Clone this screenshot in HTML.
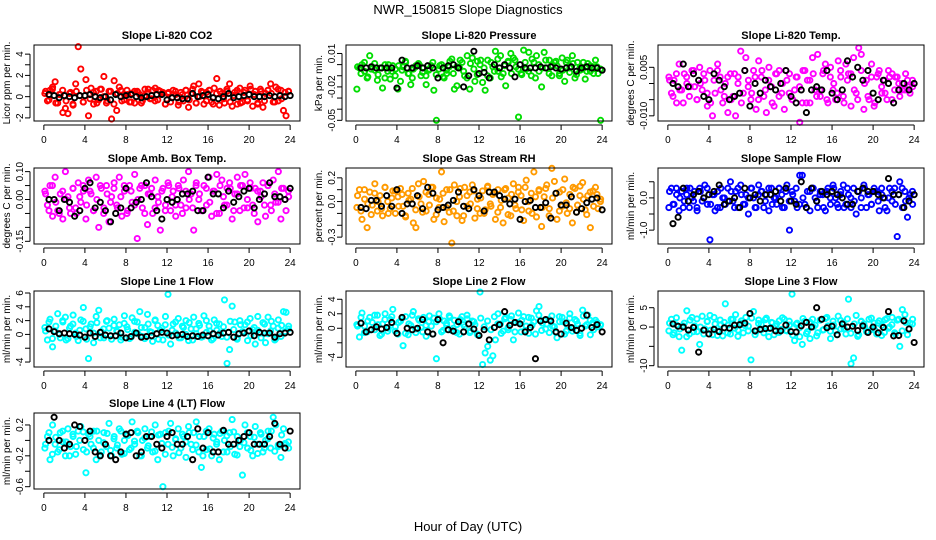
<!DOCTYPE html>
<html><head><meta charset="utf-8"><title>NWR_150815 Slope Diagnostics</title>
<style>html,body{margin:0;padding:0;background:#fff}svg{display:block;font-family:"Liberation Sans",Arial,sans-serif}</style>
</head><body>
<svg id="chart" width="936" height="540" viewBox="0 0 936 540" xmlns="http://www.w3.org/2000/svg">
<rect width="936" height="540" fill="#fff"/>
<text x="468" y="14" text-anchor="middle" font-size="13">NWR_150815  Slope Diagnostics</text>
<text x="468" y="531" text-anchor="middle" font-size="13">Hour of Day (UTC)</text>
</svg>
<script>
const co2C=[0.3,-0.4,0.6,0.9,1.4,-0.6,0.2,-1.5,-1.1,-1.6,0.4,-0.8,1.2,4.7,2.6,-0.5,1.6,-1.8,0.8,-0.7,0.5,-0.3,0.7,1.9,-0.6,0.5,-2.1,1.5,-1.3,0.9,-0.4,0.2,0.6,-0.5,0.3,-0.6,0.5,0.2,-0.4,0.7,0.4,-0.2,0.6,0.8,-0.3,0.5,0.4,-0.7,0.3,-0.5,0.6,0.2,-0.8,0.4,-0.4,0.6,-1.0,0.3,1.0,-0.6,1.2,0.5,-0.7,0.4,0.6,-0.5,0.8,1.7,-0.8,0.3,-0.6,0.5,1.2,-0.9,0.4,-0.7,0.8,-0.5,0.6,-0.4,1.0,-0.9,0.5,-0.6,0.7,-1.0,0.3,0.6,1.2,-0.5,0.9,-0.4,0.6,-1.3,-1.8,0.5];
const co2K=[0.5,-0.3,0.7,-0.6,0.2,0.6,-0.4,0.3,-0.7,0.5,0.1,-0.5,0.6,-0.2,0.4,-0.6,0.7,0.0,-0.4,0.5,-0.7,0.3,0.6,-0.3,0.2,-0.5,0.5,0.4,-0.6,0.1,0.7,-0.2,-0.4,0.6,0.3,-0.7,0.4,-0.1,0.5,-0.5,0.2,0.6,-0.3,0.7,-0.6,0.0,0.4,-0.4,0.6,-0.7,0.3,0.5,-0.2,0.7,-0.5,0.1,0.6,-0.6,0.4,-0.3,0.7,0.2,-0.7,0.5,-0.4,0.6,0.3,-0.5,0.7,-0.2,0.4,0.5];
const co2B=[0.2,0.1,-0.1,0.1,0.0,-0.1,0.1,0.1,0.2,0.0,-0.1,0.0,-0.3,0.2,0.0,0.1,0.2,0.0,-0.1,0.0,0.1,0.2,0.2,-0.3,-0.1,-0.1,-0.2,-0.2,0.3,0.0,0.1,0.2,-0.1,-0.2,0.0,0.3,-0.1,0.0,0.1,0.2,0.0,0.0,0.0,0.1,0.0,0.1,0.0,0.1];
const presC=[-0.022,-0.003,0.0,-0.006,-0.012,0.008,-0.002,-0.005,-0.014,-0.003,-0.021,0.0,-0.006,-0.013,-0.001,-0.004,-0.022,-0.015,-0.002,0.002,-0.008,-0.018,-0.004,-0.001,0.001,-0.010,-0.003,-0.018,-0.005,-0.001,-0.023,-0.050,-0.004,0.0,-0.012,-0.008,-0.002,0.005,-0.022,-0.019,-0.003,0.002,-0.010,0.008,-0.022,0.006,-0.015,0.003,0.0,-0.016,-0.023,0.004,-0.012,-0.002,0.012,-0.006,0.008,-0.008,-0.019,0.002,0.010,0.006,-0.002,-0.047,-0.008,0.013,-0.004,0.011,-0.010,0.002,0.008,-0.006,-0.020,0.011,-0.003,0.004,-0.010,0.002,-0.001,-0.008,0.006,-0.015,0.004,-0.003,0.008,-0.012,0.002,-0.005,-0.004,-0.013,0.001,-0.006,-0.002,0.004,-0.008,-0.050];
const presK=[-0.002,-0.008,0.002,-0.011,-0.004,0.001,-0.009,-0.003,-0.012,0.0,-0.006,-0.010,-0.001,-0.005,0.003,-0.008,-0.012,-0.002,0.0,-0.007,-0.010,-0.004,0.002,-0.009,-0.001,-0.011,-0.005,0.003,-0.008,-0.002,0.004,-0.006,-0.012,0.001,-0.004,-0.009,0.004,-0.003,-0.010,0.002,-0.006,0.005,-0.011,-0.001,0.003,-0.008,0.004,-0.004,-0.009,0.002,-0.006,0.005,-0.012,0.0,-0.003,0.004,-0.008,-0.001,0.003,-0.010,-0.005,0.002,-0.007,0.001,-0.009,-0.003,0.002,-0.006,-0.001,-0.008,-0.002,-0.004];
const presB=[-0.003,-0.003,-0.002,-0.003,-0.003,-0.003,-0.003,-0.021,0.004,-0.003,-0.003,-0.001,-0.003,-0.001,-0.003,-0.012,-0.003,-0.001,0.000,-0.003,-0.020,-0.010,0.012,-0.008,-0.007,-0.012,0.0,-0.003,0.0,-0.003,-0.011,0.0,-0.003,-0.003,-0.003,-0.002,-0.003,-0.002,-0.003,-0.004,-0.003,-0.002,-0.006,-0.003,-0.002,-0.003,-0.003,-0.005];
const tempC=[0.002,-0.003,0.001,-0.006,0.006,-0.002,0.003,0.0,-0.004,0.004,-0.001,-0.005,0.005,-0.002,0.001,-0.007,0.004,-0.010,-0.003,0.006,0.002,-0.006,0.0,-0.009,0.003,-0.004,-0.010,0.002,0.010,-0.003,0.008,0.001,-0.005,0.004,-0.008,0.007,0.002,-0.004,-0.009,0.005,-0.001,-0.007,0.003,0.004,-0.003,-0.008,0.001,0.003,-0.005,-0.002,0.002,-0.012,-0.006,0.004,0.001,-0.006,0.008,-0.002,0.009,-0.004,0.003,0.006,-0.006,0.005,-0.002,-0.005,0.007,0.002,-0.004,0.006,0.003,-0.007,0.008,-0.003,0.011,0.009,-0.008,0.001,-0.005,0.006,-0.007,0.002,0.004,-0.003,0.001,-0.005,0.002,0.003,-0.002,0.002,-0.004,0.0,-0.002,0.001,-0.003,-0.001];
const tempK=[0.001,-0.004,0.003,-0.002,-0.006,0.002,-0.001,0.004,-0.005,0.0,0.003,-0.003,-0.006,0.001,0.004,-0.002,-0.004,0.002,-0.005,0.003,0.0,-0.006,0.004,-0.001,-0.003,0.002,-0.005,0.004,-0.002,0.001,-0.006,0.003,-0.004,0.0,0.004,-0.003,-0.005,0.002,-0.001,0.004,-0.006,0.001,0.003,-0.004,-0.002,0.004,-0.005,0.002,0.0,-0.003,0.004,-0.006,0.001,0.003,-0.002,-0.005,0.004,0.0,-0.004,0.002,-0.006,0.003,-0.001,-0.003,0.004,-0.005,0.002,0.0,-0.002,0.003,-0.001,0.001];
const tempB=[0.0,-0.001,0.006,-0.001,0.003,0.001,-0.004,-0.005,0.003,0.001,-0.001,-0.005,-0.004,-0.003,0.004,-0.007,0.000,-0.003,0.001,-0.001,-0.002,0.000,0.004,-0.004,-0.006,-0.002,-0.009,-0.002,-0.001,-0.002,0.004,-0.003,-0.005,-0.002,0.007,0.002,0.005,0.001,0.004,-0.003,-0.005,0.001,0.0,-0.006,-0.002,0.0,-0.002,0.0];
const ambC=[0.03,-0.02,0.05,-0.06,0.08,-0.04,0.02,-0.07,0.10,0.01,-0.05,0.04,-0.03,0.06,-0.01,0.03,-0.07,0.07,0.02,-0.04,0.08,-0.10,0.04,-0.03,0.05,-0.08,0.01,0.06,-0.02,0.08,-0.06,0.03,-0.05,0.05,-0.01,0.09,-0.14,0.04,-0.03,0.05,-0.09,0.02,-0.05,0.07,0.01,-0.11,0.04,-0.02,0.06,-0.04,0.03,-0.06,0.05,-0.02,0.07,-0.03,0.10,0.02,-0.11,0.06,0.0,-0.04,0.05,-0.02,0.08,-0.06,0.03,0.09,-0.05,0.07,-0.02,0.04,0.06,-0.07,0.02,0.08,-0.04,0.05,0.09,-0.03,0.06,-0.02,0.04,-0.08,0.03,0.06,-0.06,0.05,-0.02,0.07,-0.01,0.10,-0.07,0.04,-0.04,0.01];
const ambK=[0.02,-0.04,0.05,-0.01,-0.05,0.03,0.0,-0.03,0.04,-0.05,0.01,0.05,-0.02,0.03,-0.04,0.0,0.05,-0.05,0.02,-0.01,0.04,-0.03,0.01,0.05,-0.04,0.03,-0.02,0.0,0.05,-0.05,0.02,0.04,-0.03,-0.01,0.03,-0.04,0.05,0.01,-0.02,0.04,-0.05,0.03,0.0,-0.03,0.05,0.02,-0.04,0.04,-0.01,0.03,-0.05,0.05,0.01,-0.02,0.04,-0.04,0.02,0.05,-0.03,0.0,0.04,-0.05,0.03,0.01,-0.02,0.05,-0.04,0.02,-0.01,0.04,0.0,0.03];
const ambB=[0.0,0.0,-0.04,0.0,-0.01,-0.06,-0.04,0.04,0.06,-0.03,-0.01,-0.04,-0.08,-0.05,-0.03,0.04,-0.03,-0.01,0.0,0.06,0.01,-0.04,-0.07,0.0,-0.01,0.0,0.02,0.02,0.03,-0.04,-0.04,0.08,0.02,0.02,-0.03,0.03,-0.01,0.01,0.03,0.04,-0.03,0.0,0.02,0.06,0.01,0.01,0.00,0.04];
const rhC=[-0.05,0.10,-0.15,0.02,-0.22,0.08,-0.03,0.15,-0.08,0.05,-0.12,0.12,0.0,-0.06,0.09,-0.10,0.04,0.11,-0.04,-0.13,0.07,0.02,-0.18,-0.22,0.15,-0.02,0.17,-0.08,0.06,0.12,-0.15,0.03,-0.05,0.25,-0.17,0.10,-0.09,-0.35,0.14,-0.12,0.04,-0.16,0.12,-0.04,0.08,0.14,-0.14,0.02,-0.10,0.09,-0.07,0.13,-0.02,0.06,-0.15,0.10,-0.05,-0.18,0.11,0.03,-0.12,0.15,-0.06,0.12,0.05,-0.16,0.18,-0.08,0.07,0.25,-0.13,0.10,-0.21,0.04,0.14,-0.06,0.28,0.17,-0.15,0.08,-0.04,0.19,-0.10,0.06,-0.18,0.11,-0.03,0.13,0.16,-0.07,0.05,-0.22,0.09,0.12,-0.06,0.02];
const rhK=[0.05,-0.08,0.10,-0.02,-0.11,0.07,0.0,-0.06,0.12,-0.10,0.03,0.09,-0.04,0.06,-0.12,0.01,0.11,-0.07,0.04,-0.09,0.08,-0.03,0.12,-0.11,0.02,0.07,-0.05,0.10,-0.08,0.0,0.11,-0.12,0.05,-0.02,0.09,-0.06,0.03,-0.10,0.12,-0.04,0.07,-0.09,0.01,0.10,-0.11,0.06,-0.03,0.08,-0.07,0.12,0.0,-0.10,0.04,0.09,-0.05,0.11,-0.12,0.03,0.07,-0.08,0.10,-0.01,-0.06,0.12,-0.09,0.05,0.02,-0.11,0.08,-0.04,0.06,0.0];
const rhB=[-0.05,-0.06,0.01,0.01,-0.04,0.05,-0.04,0.10,-0.10,-0.02,-0.02,0.05,-0.06,0.12,0.07,-0.07,-0.05,-0.03,0.01,0.08,-0.04,-0.06,0.10,0.05,-0.08,0.08,0.08,0.05,0.02,-0.02,0.02,-0.15,0.0,0.01,-0.05,-0.05,-0.01,-0.14,0.07,-0.03,-0.03,0.04,-0.09,-0.06,-0.01,0.02,0.03,-0.07];
const sampC=[-0.3,0.3,-0.2,0.1,-0.4,0.2,-0.1,0.3,-0.3,0.0,0.2,-0.4,0.3,-0.1,0.4,-0.2,-1.3,0.1,-0.4,0.2,-0.3,0.0,-0.2,0.3,0.5,-0.1,0.2,-0.3,0.4,-0.2,0.1,-0.5,0.3,0.0,-0.3,0.4,0.2,-0.3,0.1,-0.4,0.3,0.0,-0.2,0.3,0.1,-0.3,0.4,-1.0,0.2,-0.1,-0.3,0.7,0.7,-0.2,0.2,-0.4,0.3,0.0,-0.3,0.2,0.1,-0.4,0.3,-0.2,0.4,0.0,-0.3,0.2,0.4,-0.2,0.1,-0.3,0.3,-0.5,0.2,0.0,0.4,-0.3,0.1,-0.2,0.3,0.2,-0.4,0.1,0.0,-0.4,0.3,-0.1,0.3,-1.2,0.5,-0.3,0.2,-0.6,0.1,-0.2];
const sampK=[0.2,-0.2,0.3,0.0,-0.3,0.1,0.3,-0.1,-0.3,0.2,0.0,0.3,-0.2,0.1,-0.3,0.3,0.0,-0.1,0.2,-0.3,0.3,0.1,-0.2,0.0,0.3,-0.3,0.1,0.2,-0.1,0.3,-0.2,0.0,0.3,-0.3,0.2,-0.1,0.1,0.3,-0.2,0.0,-0.3,0.2,0.3,-0.1,0.1,-0.3,0.2,0.0,0.3,-0.2,0.1,-0.3,0.3,0.0,-0.1,0.2,-0.3,0.3,0.1,-0.2,0.2,-0.1,0.3,-0.3,0.0,0.2,-0.2,0.1,0.3,-0.1,0.0,0.2];
const sampB=[-0.8,-0.6,0.3,-0.1,0.1,0.2,0.0,0.1,0.2,0.4,-0.2,-0.1,0.0,-0.3,0.3,0.0,0.1,-0.1,0.1,0.1,0.2,-0.1,0.3,-0.1,-0.2,0.5,-0.3,0.3,-0.1,0.2,0.1,0.2,0.1,0.0,-0.2,-0.2,0.2,0.3,0.2,0.2,0.1,0.0,0.6,0.1,0.1,-0.3,-0.1,0.1];
const l1C=[1.0,-0.8,2.2,-1.8,0.5,3.0,-0.5,1.8,2.5,-0.6,1.2,2.8,0.2,-0.9,2.1,3.9,0.8,-3.5,1.5,-1.2,2.6,3.5,0.4,-0.5,1.9,0.9,-0.7,2.2,0.5,1.4,-0.4,2.7,1.1,-0.6,2.4,0.3,1.8,3.3,-0.3,1.0,2.9,0.4,-1.0,2.1,1.3,0.6,-0.8,2.6,5.8,-1.4,1.5,0.2,2.3,-0.5,1.0,2.0,-0.9,0.8,2.5,0.1,1.6,-0.4,2.7,0.3,1.2,-0.8,2.1,0.6,1.5,-0.3,5.0,-4.2,-2.2,4.1,1.8,-0.5,2.0,0.4,1.4,-0.9,2.3,0.7,-1.4,2.6,0.2,1.7,-1.2,2.5,0.5,1.2,-0.6,2.1,-0.3,3.3,3.2,1.2];
const l1K=[0.5,1.8,-0.6,1.2,0.0,2.0,-0.8,0.9,1.5,-0.3,0.6,1.9,-0.7,1.1,0.2,1.7,-0.5,0.8,2.0,-0.2,1.3,0.4,-0.8,1.6,0.7,-0.4,1.9,0.1,1.0,-0.6,1.5,0.3,2.0,-0.7,0.9,1.4,-0.1,0.6,1.8,-0.5,1.2,0.0,1.7,-0.8,0.8,1.3,-0.3,2.0,0.5,-0.6,1.6,0.2,1.1,-0.4,1.9,0.7,-0.7,1.4,0.3,1.8,-0.2,1.0,0.6,-0.5,1.5,0.1,1.9,-0.8,0.9,1.3,0.4,0.8];
const l1B=[0.8,0.4,0.1,0.2,0.1,0.0,-0.1,-0.4,0.2,-0.3,0.3,-0.1,-0.2,-0.2,0.2,-0.5,-0.3,0.2,-0.4,-0.3,-0.2,0.1,0.3,0.2,-0.2,-0.1,0.0,-0.3,-0.2,-0.3,-0.1,-0.2,0.1,-0.1,0.2,0.3,-0.4,0.1,0.2,0.5,-0.2,0.3,0.2,0.2,-0.4,0.1,0.2,0.3];
const l2C=[0.5,-1.2,2.1,0.3,-0.5,1.5,0.8,-0.2,1.8,-1.0,0.6,2.0,-0.4,1.2,2.6,0.2,-0.8,1.0,-2.4,1.6,-0.9,0.4,2.3,-0.6,1.3,0.1,1.5,-1.1,0.9,0.3,1.4,-4.2,2.0,-0.5,1.0,0.4,1.7,-0.3,1.1,0.5,-0.8,1.6,0.2,1.3,-0.6,1.0,0.5,-0.9,5.0,-5.0,-3.4,-2.5,-4.4,-3.8,-1.6,2.0,0.6,-0.4,1.5,-0.2,1.2,-1.6,0.8,2.1,-0.5,1.6,0.3,-0.7,1.4,0.9,2.4,3.0,-0.3,1.1,0.6,-0.6,1.7,0.2,-1.3,0.9,1.5,-0.8,0.4,2.0,-0.4,1.2,0.6,-1.0,2.5,0.3,1.8,-0.9,0.8,1.1,0.2,0.5];
const l2K=[0.3,1.5,-0.6,1.0,-0.2,1.8,0.5,-0.8,1.2,0.0,1.6,-0.4,0.8,1.4,-0.7,0.6,1.8,-0.1,1.1,-0.5,0.4,1.7,-0.8,0.9,1.3,-0.3,0.7,1.5,0.0,-0.6,1.2,0.5,1.8,-0.4,0.9,-0.8,1.4,0.2,1.0,-0.2,1.6,0.6,-0.7,1.3,0.1,1.7,-0.5,0.8,1.1,-0.3,1.5,0.4,-0.8,1.8,0.7,-0.1,1.2,0.3,-0.6,1.6,0.9,-0.4,1.4,0.0,1.0,-0.7,1.7,0.5,1.1,-0.2,0.8,0.4];
const l2B=[0.7,-0.5,-0.2,0.2,-0.1,0.1,0.8,-0.7,1.5,0.0,-0.2,0.0,1.2,-0.5,-0.8,1.2,-2.0,-0.2,-0.4,0.9,-0.5,0.6,-0.1,-1.0,-0.2,-1.6,0.1,0.5,2.3,0.4,0.8,0.6,-0.5,0.1,-4.2,1.0,1.2,1.0,-0.5,-0.8,0.7,0.1,-0.3,0.0,1.8,0.1,0.5,-0.5];
const l3C=[-1.0,2.0,-1.5,0.5,-2.5,-6.0,1.0,4.2,-1.8,2.5,0.3,-1.2,-4.5,2.8,-0.5,1.5,3.0,-2.0,0.8,-1.0,1.8,-2.3,6.0,0.5,-1.8,2.0,3.2,-0.8,1.0,-1.5,2.5,0.2,-8.5,4.0,-1.2,1.8,0.6,-1.5,2.3,-0.4,1.2,-2.0,0.8,1.6,-0.6,2.0,-1.0,0.5,8.5,-3.5,1.0,-2.5,-4.5,1.5,-1.2,-3.0,2.0,0.5,-1.5,1.8,-0.8,2.2,0.3,-3.0,1.5,-1.0,2.8,-0.5,1.2,-1.8,7.2,-9.5,-8.0,3.0,-2.0,1.5,0.8,-1.2,2.0,-0.6,1.0,-1.8,1.6,0.4,-1.4,2.2,0.0,2.5,-1.5,1.8,-5.0,4.5,3.2,-2.0,1.0,2.0];
const l3K=[1.0,-2.0,2.4,-0.5,0.3,-2.5,1.8,-1.2,2.1,0.0,-1.8,1.4,-0.8,2.5,-2.2,0.6,1.2,-1.5,2.0,-0.3,-2.4,1.6,0.4,-1.0,2.3,-2.0,0.9,-0.6,1.9,-2.5,1.1,0.2,-1.4,2.4,-0.9,1.5,-2.1,0.7,-0.2,2.2,-1.7,1.3,0.0,-2.3,1.8,-0.7,2.5,-1.1,0.5,-2.0,1.7,-0.4,2.1,-1.6,0.8,-2.4,1.4,0.1,-1.2,2.3,-0.8,1.0,-2.2,1.9,-0.3,0.6,-1.8,2.0,-1.0,1.2,-0.5,0.8];
const l3B=[0.8,0.2,0.0,-0.8,-0.1,-6.5,-0.8,-1.8,-0.6,-1.2,-0.2,-0.3,0.5,0.6,1.0,3.5,-1.0,-0.6,-0.4,-0.3,-1.0,-1.0,0.5,-1.2,-1.3,0.3,1.2,0.0,5.0,2.0,-0.2,0.2,-2.0,0.8,0.0,0.2,-0.9,0.3,-1.4,0.0,-1.5,-0.1,4.0,-2.3,-2.2,1.6,-0.5,-4.0];
const l4C=[-0.1,0.05,-0.25,0.2,-0.05,-0.15,0.1,-0.02,-0.2,0.15,-0.08,0.05,-0.18,0.12,0.18,-0.12,-0.42,0.08,-0.05,0.12,-0.25,0.0,-0.15,0.1,-0.08,0.22,-0.2,0.05,-0.1,0.15,-0.18,0.0,0.08,-0.12,0.24,-0.05,0.12,-0.2,0.0,0.15,-0.1,0.05,-0.15,0.2,-0.25,0.08,-0.6,0.1,-0.05,0.22,-0.2,0.02,0.15,-0.1,0.05,-0.22,0.18,-0.05,0.1,0.24,-0.15,-0.35,0.05,-0.12,0.15,-0.2,0.08,-0.02,-0.25,0.12,0.0,-0.15,0.1,0.27,-0.18,0.05,-0.08,-0.45,0.2,-0.1,0.05,-0.2,0.18,-0.05,0.1,-0.15,0.0,0.12,-0.1,0.3,0.2,-0.08,-0.22,0.15,-0.05,-0.1];
const l4K=[-0.05,0.1,-0.18,0.04,-0.12,0.12,-0.02,-0.2,0.08,-0.08,0.0,0.11,-0.15,0.05,-0.1,0.12,-0.19,-0.03,0.09,-0.13,0.02,-0.06,0.12,-0.17,0.06,-0.1,-0.01,0.1,-0.2,0.03,-0.07,0.11,-0.14,0.07,-0.04,-0.18,0.12,-0.09,0.01,-0.16,0.08,-0.02,0.1,-0.12,-0.06,0.05,-0.2,0.12,-0.11,0.03,-0.05,0.09,-0.15,0.06,-0.08,0.11,-0.19,0.0,-0.03,0.1,-0.13,0.04,-0.17,0.08,-0.1,0.02,0.12,-0.14,-0.06,0.07,-0.04,-0.02];
const l4B=[0.0,0.3,0.0,-0.1,-0.05,0.2,0.18,0.0,0.12,-0.15,-0.2,-0.05,-0.2,-0.25,-0.15,0.08,0.1,-0.2,-0.15,0.05,0.05,-0.05,-0.1,0.05,0.1,-0.05,-0.05,0.05,-0.25,0.15,-0.1,0.1,-0.15,-0.15,0.13,-0.05,-0.05,0.0,0.05,0.1,-0.05,-0.05,-0.05,0.05,0.22,-0.05,-0.1,0.12];
const xTicks=[0,4,8,12,16,20,24];

const NS='http://www.w3.org/2000/svg';
const svg=document.getElementById('chart');
const colX=[34,346,658], rowY=[45,168,291,413], W=266, H=76;
const panels=[
 {n:'co2',t:'Slope Li-820 CO2',yl:'Licor ppm per min.',c:0,r:0,y0:-2.29,y1:4.86,tk:[-2,-1,0,1,2,3,4],lb:[-2,0,2,4],d:0,col:'#ff0000',C:co2C,K:co2K,B:co2B},
 {n:'pressure',t:'Slope Li-820 Pressure',yl:'kPa per min.',c:1,r:0,y0:-0.0506,y1:0.0176,tk:[0.01,0,-0.01,-0.02,-0.03,-0.04,-0.05],lb:[0.01,-0.02,-0.05],d:2,col:'#00dd00',C:presC,K:presK,B:presB},
 {n:'temp',t:'Slope Li-820 Temp.',yl:'degrees C per min.',c:2,r:0,y0:-0.0116,y1:0.0119,tk:[0.005,0,-0.005,-0.01],lb:[0.005,-0.01],d:3,col:'#ff00ff',C:tempC,K:tempK,B:tempB},
 {n:'amb-box-temp',t:'Slope Amb. Box Temp.',yl:'degrees C per min.',c:0,r:1,y0:-0.1596,y1:0.113,tk:[0.1,0.05,0,-0.05,-0.1,-0.15],lb:[0.1,0,-0.15],d:2,col:'#ff00ff',C:ambC,K:ambK,B:ambB},
 {n:'gas-rh',t:'Slope Gas Stream RH',yl:'percent per min.',c:1,r:1,y0:-0.358,y1:0.283,tk:[0.2,0.1,0,-0.1,-0.2,-0.3],lb:[0.2,0,-0.3],d:1,col:'#ff9a00',C:rhC,K:rhK,B:rhB},
 {n:'sample-flow',t:'Slope Sample Flow',yl:'ml/min per min.',c:2,r:1,y0:-1.43,y1:0.927,tk:[0.5,0,-0.5,-1],lb:[0,-1],d:1,col:'#0000ff',C:sampC,K:sampK,B:sampB},
 {n:'line1-flow',t:'Slope Line 1 Flow',yl:'ml/min per min.',c:0,r:2,y0:-4.72,y1:6.29,tk:[-4,-2,0,2,4,6],lb:[-4,0,2,4,6],d:0,col:'#00ffff',C:l1C,K:l1K,B:l1B},
 {n:'line2-flow',t:'Slope Line 2 Flow',yl:'ml/min per min.',c:1,r:2,y0:-5.34,y1:5.14,tk:[-4,-2,0,2,4],lb:[-4,0,2,4],d:0,col:'#00ffff',C:l2C,K:l2K,B:l2B},
 {n:'line3-flow',t:'Slope Line 3 Flow',yl:'ml/min per min.',c:2,r:2,y0:-10.34,y1:9.32,tk:[-10,-5,0,5],lb:[-10,0,5],d:0,col:'#00ffff',C:l3C,K:l3K,B:l3B},
 {n:'line4-flow',t:'Slope Line 4 (LT) Flow',yl:'ml/min per min.',c:0,r:3,y0:-0.63,y1:0.355,tk:[0.2,0,-0.2,-0.4,-0.6],lb:[0.2,-0.2,-0.6],d:1,col:'#00ffff',C:l4C,K:l4K,B:l4B}
];
function mk(tag,attrs,parent){const e=document.createElementNS(NS,tag);for(const k in attrs)e.setAttribute(k,attrs[k]);(parent||svg).appendChild(e);return e;}
panels.forEach(p=>{
 const L=colX[p.c],T=rowY[p.r];
 const g=mk('g',{});
 
 
 const xs=v=>L+W*(v+0.96)/25.92;
 const ys=v=>T+H*(p.y1-v)/(p.y1-p.y0);
 const ti=mk('text',{x:L+W/2,y:T-6,'text-anchor':'middle','font-size':'11','font-weight':'bold'},g);
 ti.textContent=p.t;
 
 
 const yl=mk('text',{transform:`translate(${L-24},${T+H/2}) rotate(-90)`,'text-anchor':'middle','font-size':'10'},g);
 yl.textContent=p.yl;
 
 
 const nk=p.K.length;
 p.K.forEach((v,i)=>{
  const c=mk('circle',{cx:xs((i+0.5)*24/nk),cy:ys(v),r:2.6,fill:'none',stroke:p.col,'stroke-width':1.9},g);
  
  
 });
 const n=p.C.length;
 p.C.forEach((v,i)=>{
  const c=mk('circle',{cx:xs(i*24/n+0.1),cy:ys(v),r:2.6,fill:'none',stroke:p.col,'stroke-width':1.9},g);
  
  
 });
 p.B.forEach((v,i)=>{
  const c=mk('circle',{cx:xs((i+1)*0.5),cy:ys(v),r:2.6,fill:'none',stroke:'#000','stroke-width':1.9},g);
  
  
 });
 const box=mk('rect',{x:L,y:T,width:W,height:H,fill:'none',stroke:'#000','stroke-width':1},g);
 
 
 mk('line',{x1:xs(0),x2:xs(24),y1:T+H+4,y2:T+H+4,stroke:'#000'},g);
 xTicks.forEach(v=>{
  mk('line',{x1:xs(v),x2:xs(v),y1:T+H+4,y2:T+H+9,stroke:'#000'},g);
  const t=mk('text',{x:xs(v),y:T+H+22,'text-anchor':'middle','font-size':'10'},g);
  t.textContent=v;
  
  
 });
 const tmin=Math.min(...p.tk),tmax=Math.max(...p.tk);
 mk('line',{x1:L-4,x2:L-4,y1:ys(tmin),y2:ys(tmax),stroke:'#000'},g);
 p.tk.forEach(v=>mk('line',{x1:L-9,x2:L-4,y1:ys(v),y2:ys(v),stroke:'#000'},g));
 p.lb.forEach(v=>{
  const t=mk('text',{transform:`translate(${L-11},${ys(v)}) rotate(-90)`,'text-anchor':'middle','font-size':'10'},g);
  t.textContent=v.toFixed(p.d);
  
  
 });
});
</script>
</body></html>
